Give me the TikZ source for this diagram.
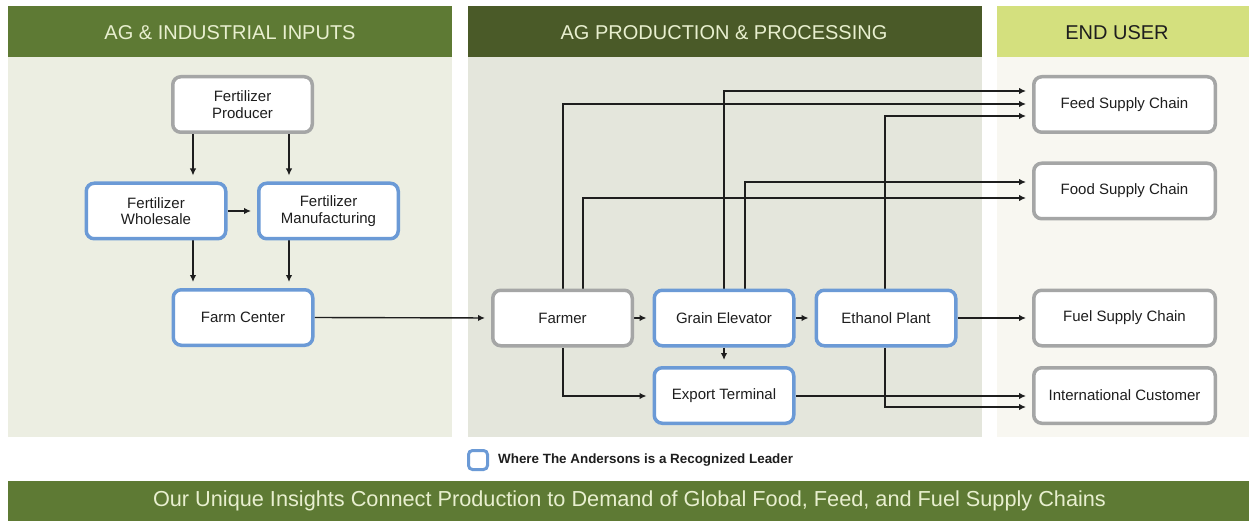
\documentclass[tikz,border=0pt]{standalone}
\usepackage{fontspec}
\setmainfont{Liberation Sans}
\usetikzlibrary{arrows.meta}
\pgfdeclarelayer{bg}
\pgfdeclarelayer{mid}
\pgfsetlayers{bg,mid,main}
\definecolor{olive}{HTML}{5E7A34}
\definecolor{darkolive}{HTML}{4A5A28}
\definecolor{lime}{HTML}{D4E07E}
\definecolor{panelA}{HTML}{ECEEE2}
\definecolor{panelB}{HTML}{E4E6DC}
\definecolor{panelC}{HTML}{F8F7F1}
\definecolor{grayb}{HTML}{A5A6A6}
\definecolor{blueb}{HTML}{6B9AD6}
\definecolor{cream}{HTML}{E8EFCF}
\definecolor{ink}{HTML}{1E1E1E}
\begin{document}
\begin{tikzpicture}[x=1pt,y=-1pt,
  box/.style={rectangle, rounded corners=8pt, fill=white, line width=3.5pt,
    minimum width=139.5pt, minimum height=55.5pt, inner sep=0pt, align=center,
    text=ink, font=\fontsize{15}{16.5}\selectfont},
  graybox/.style={box, draw=grayb},
  bluebox/.style={box, draw=blueb},
  endbox/.style={graybox, minimum width=181.5pt},
  arr/.style={draw=ink, line width=1.4pt, -{Latex[length=7pt,width=6.5pt]}, shorten >=6pt},
  hdr/.style={font=\fontsize{20}{22}\selectfont, inner sep=0pt}
]
\useasboundingbox (0,0) rectangle (1249,521);
\begin{pgfonlayer}{bg}
  \fill[white] (0,0) rectangle (1249,521);
  \fill[panelA] (8,57) rectangle (452,437);
  \fill[panelB] (468,57) rectangle (982,437);
  \fill[panelC] (997,57) rectangle (1249,437);
  \fill[olive] (8,6) rectangle (452,57);
  \fill[darkolive] (468,6) rectangle (982,57);
  \fill[lime] (997,6) rectangle (1249,57);
  \fill[olive] (8,481) rectangle (1249,521);
\end{pgfonlayer}
\node[hdr, text=cream] (h1) at (230,33) {AG \& INDUSTRIAL INPUTS};
\node[hdr, text=cream] (h2) at (724,33) {AG PRODUCTION \& PROCESSING};
\node[hdr, text=ink] (h3) at (1117,33) {END USER};
\node[font=\fontsize{21.7}{24}\selectfont, text=cream, inner sep=0pt] (ban) at (629.5,501)
  {Our Unique Insights Connect Production to Demand of Global Food, Feed, and Fuel Supply Chains};
% legend
\node[draw=blueb, line width=3pt, rounded corners=4pt, fill=white, minimum width=19pt, minimum height=19pt, inner sep=0pt] (leg) at (478,460) {};
\node[anchor=west, font=\bfseries\fontsize{13.4}{15}\selectfont, text=ink, inner sep=0pt] (legt) at (498,460) {Where The Andersons is a Recognized Leader};
% nodes
\node[graybox] (prod) at (242.5,104.5) {Fertilizer\\Producer};
\node[bluebox] (whole) at (156,211) {Fertilizer\\Wholesale};
\node[bluebox] (manu) at (328.5,211) {Fertilizer\\Manufacturing};
\node[bluebox] (farm) at (243,317.5) {Farm Center};
\node[graybox] (farmer) at (562.5,318) {Farmer};
\node[bluebox] (grain) at (724,318) {Grain Elevator};
\node[bluebox] (ethanol) at (886,318) {Ethanol Plant};
\node[bluebox] (export) at (724,395.5) {Export Terminal};
\node[endbox] (feed) at (1124.5,104.5) {Feed Supply Chain};
\node[endbox] (food) at (1124.5,191) {Food Supply Chain};
\node[endbox] (fuel) at (1124.5,318) {Fuel Supply Chain};
\node[endbox] (intl) at (1124.5,395.5) {International Customer};
% helper coordinates
\coordinate (cA) at (193,0);
\coordinate (cB) at (289,0);
\coordinate (cF1) at (563,0);
\coordinate (cF2) at (583,0);
\coordinate (cG1) at (724,0);
\coordinate (cG2) at (745,0);
\coordinate (cE) at (885,0);
\coordinate (rFeed1) at (0,91);
\coordinate (rFeed2) at (0,104);
\coordinate (rFeed3) at (0,116);
\coordinate (rFood1) at (0,182);
\coordinate (rFood2) at (0,198);
\coordinate (rExp) at (0,396);
\coordinate (rIntl) at (0,407);
\begin{pgfonlayer}{mid}
  \draw[arr] (prod.south -| cA) -- (whole.north -| cA);
  \draw[arr] (prod.south -| cB) -- (manu.north -| cB);
  \draw[arr] (whole.east) -- (manu.west);
  \draw[arr] (whole.south -| cA) -- (farm.north -| cA);
  \draw[arr] (manu.south -| cB) -- (farm.north -| cB);
  \draw[arr] (farm.east) -- (farmer.west);
  \draw[arr] (farmer.east) -- (grain.west);
  \draw[arr] (grain.east) -- (ethanol.west);
  \draw[arr] (grain.south) -- (export.north);
  \draw[arr] (farmer.south -| cF1) |- (export.west |- rExp);
  \draw[arr] (export.east |- rExp) -- (intl.west |- rExp);
  \draw[arr] (ethanol.south -| cE) |- (intl.west |- rIntl);
  \draw[arr] (ethanol.east) -- (fuel.west);
  \draw[arr] (grain.north -| cG1) |- (feed.west |- rFeed1);
  \draw[arr] (farmer.north -| cF1) |- (feed.west |- rFeed2);
  \draw[arr] (ethanol.north -| cE) |- (feed.west |- rFeed3);
  \draw[arr] (grain.north -| cG2) |- (food.west |- rFood1);
  \draw[arr] (farmer.north -| cF2) |- (food.west |- rFood2);
\end{pgfonlayer}
\end{tikzpicture}
\end{document}
